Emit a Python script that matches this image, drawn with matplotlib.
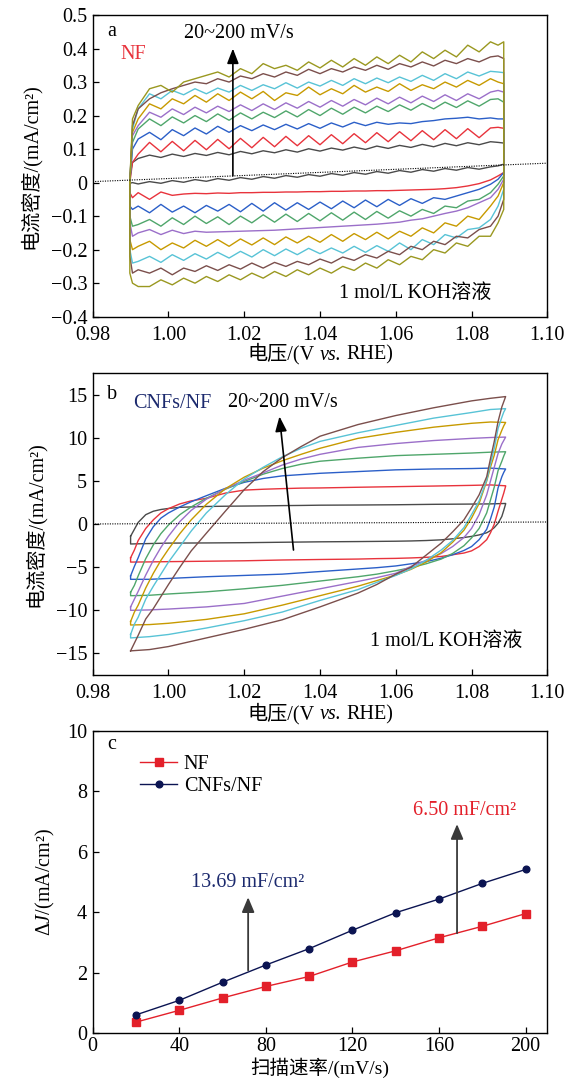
import matplotlib
matplotlib.use('Agg')
import matplotlib.pyplot as plt
from matplotlib.ticker import FuncFormatter, FixedLocator
from matplotlib.offsetbox import TextArea, HPacker, AnnotationBbox

FAMILY = ['Liberation Serif', 'Noto Sans CJK SC']
plt.rcParams['font.family'] = FAMILY
plt.rcParams['mathtext.fontset'] = 'custom'
plt.rcParams['mathtext.rm'] = 'Liberation Serif'
plt.rcParams['mathtext.it'] = 'Liberation Serif:italic'
plt.rcParams['axes.unicode_minus'] = True

# ---------------- Panel a : NF, CV curves (mA/cm2 vs V) ----------------
a_v = [0.9898, 0.9905, 0.992, 0.995, 0.998, 1.001, 1.004, 1.007, 1.010, 1.013, 1.016, 1.019,
       1.022, 1.025, 1.028, 1.031, 1.034, 1.037, 1.040, 1.043, 1.046, 1.049, 1.052, 1.055,
       1.058, 1.061, 1.064, 1.067, 1.070, 1.073, 1.076, 1.079, 1.082, 1.085, 1.087, 1.0885]

a_gray_up = [0.02, 0.06, 0.072, 0.082, 0.075, 0.085, 0.078, 0.087, 0.081, 0.090, 0.083, 0.093, 0.086,
             0.095, 0.089, 0.098, 0.091, 0.101, 0.094, 0.103, 0.097, 0.106, 0.099, 0.109, 0.102, 0.111,
             0.105, 0.114, 0.107, 0.117, 0.110, 0.119, 0.113, 0.122, 0.120, 0.118]
a_gray_lo = [-0.002, 0.0, -0.004, 0.003, -0.002, 0.006, 0.001, 0.009, 0.004, 0.012, 0.007, 0.015, 0.010,
             0.018, 0.013, 0.021, 0.016, 0.024, 0.019, 0.027, 0.022, 0.030, 0.025, 0.033, 0.028, 0.036,
             0.031, 0.039, 0.034, 0.042, 0.037, 0.045, 0.040, 0.047, 0.050, 0.055]
a_red_up = [0.0, 0.06, 0.085, 0.12, 0.092, 0.123, 0.095, 0.126, 0.098, 0.129, 0.101, 0.132, 0.104, 0.135,
            0.107, 0.138, 0.110, 0.140, 0.113, 0.143, 0.116, 0.146, 0.119, 0.149, 0.122, 0.152, 0.125,
            0.155, 0.128, 0.158, 0.131, 0.161, 0.134, 0.163, 0.165, 0.162]
a_red_lo = [-0.03, -0.045, -0.03, -0.05, -0.028, -0.038, -0.034, -0.032, -0.033, -0.031, -0.032, -0.030,
            -0.030, -0.029, -0.029, -0.028, -0.028, -0.027, -0.027, -0.026, -0.026, -0.025, -0.025,
            -0.024, -0.024, -0.023, -0.022, -0.021, -0.020, -0.018, -0.015, -0.010, -0.003, 0.008,
            0.020, 0.030]
a_blue_up = [0.0, 0.10, 0.13, 0.15, 0.128, 0.158, 0.14, 0.163, 0.145, 0.168, 0.15, 0.17, 0.155, 0.172,
             0.158, 0.174, 0.16, 0.176, 0.162, 0.178, 0.166, 0.18, 0.17, 0.18, 0.174, 0.178, 0.176, 0.182,
             0.185, 0.19, 0.192, 0.195, 0.19, 0.193, 0.19, 0.19]
a_blue_lo = [-0.07, -0.08, -0.07, -0.09, -0.065, -0.088, -0.07, -0.09, -0.068, -0.085, -0.065, -0.087,
             -0.062, -0.085, -0.06, -0.082, -0.06, -0.08, -0.058, -0.078, -0.055, -0.075, -0.052, -0.072,
             -0.05, -0.068, -0.048, -0.062, -0.045, -0.05, -0.04, -0.03, -0.02, -0.005, 0.01, 0.03]
a_green_up = [0.0, 0.12, 0.16, 0.19, 0.17, 0.196, 0.178, 0.2, 0.182, 0.205, 0.186, 0.208, 0.19, 0.21,
              0.194, 0.214, 0.196, 0.218, 0.2, 0.222, 0.204, 0.225, 0.208, 0.228, 0.212, 0.232, 0.216,
              0.236, 0.22, 0.24, 0.224, 0.244, 0.228, 0.248, 0.25, 0.24]
a_green_lo = [-0.1, -0.13, -0.125, -0.11, -0.13, -0.105, -0.125, -0.1, -0.122, -0.102, -0.125, -0.1,
              -0.12, -0.096, -0.118, -0.094, -0.116, -0.092, -0.114, -0.09, -0.112, -0.088, -0.11,
              -0.086, -0.106, -0.084, -0.1, -0.08, -0.092, -0.07, -0.075, -0.055, -0.05, -0.03,
              -0.005, 0.02]
a_purple_up = [0.0, 0.14, 0.17, 0.21, 0.195, 0.22, 0.203, 0.225, 0.208, 0.228, 0.212, 0.232, 0.215,
               0.235, 0.218, 0.238, 0.222, 0.242, 0.225, 0.245, 0.228, 0.248, 0.232, 0.252, 0.235, 0.255,
               0.238, 0.258, 0.242, 0.262, 0.245, 0.265, 0.25, 0.27, 0.275, 0.27]
a_purple_lo = [-0.12, -0.16, -0.15, -0.14, -0.155, -0.142, -0.152, -0.145, -0.148, -0.147, -0.146,
               -0.145, -0.144, -0.143, -0.142, -0.14, -0.138, -0.136, -0.134, -0.132, -0.13, -0.128,
               -0.126, -0.124, -0.121, -0.118, -0.112, -0.108, -0.1, -0.092, -0.085, -0.075, -0.06,
               -0.045, -0.02, 0.01]
a_gold_up = [0.0, 0.15, 0.19, 0.235, 0.22, 0.25, 0.235, 0.26, 0.24, 0.265, 0.245, 0.27, 0.25, 0.272,
             0.245, 0.268, 0.26, 0.285, 0.262, 0.28, 0.265, 0.29, 0.27, 0.285, 0.272, 0.295, 0.275, 0.292,
             0.28, 0.3, 0.285, 0.305, 0.29, 0.31, 0.3, 0.295]
a_gold_lo = [-0.17, -0.2, -0.19, -0.175, -0.2, -0.18, -0.195, -0.172, -0.19, -0.17, -0.19, -0.168,
             -0.186, -0.165, -0.185, -0.162, -0.18, -0.16, -0.178, -0.155, -0.175, -0.152, -0.17,
             -0.148, -0.168, -0.145, -0.16, -0.135, -0.15, -0.12, -0.13, -0.1, -0.11, -0.07, -0.04, 0.0]
a_cyan_up = [0.0, 0.16, 0.22, 0.265, 0.25, 0.275, 0.262, 0.28, 0.265, 0.282, 0.27, 0.29, 0.275, 0.292,
             0.28, 0.298, 0.282, 0.3, 0.288, 0.305, 0.29, 0.31, 0.295, 0.312, 0.298, 0.315, 0.302, 0.32,
             0.305, 0.325, 0.31, 0.33, 0.318, 0.332, 0.33, 0.328]
a_cyan_lo = [-0.2, -0.24, -0.235, -0.22, -0.238, -0.215, -0.232, -0.212, -0.228, -0.208, -0.225, -0.205,
             -0.222, -0.2, -0.218, -0.198, -0.215, -0.196, -0.212, -0.195, -0.21, -0.19, -0.208, -0.188,
             -0.205, -0.18, -0.2, -0.17, -0.185, -0.155, -0.165, -0.14, -0.135, -0.11, -0.07, -0.02]
a_brown_up = [0.0, 0.17, 0.22, 0.25, 0.268, 0.28, 0.29, 0.3, 0.295, 0.31, 0.3, 0.318, 0.31, 0.325,
              0.315, 0.33, 0.32, 0.338, 0.325, 0.34, 0.33, 0.345, 0.335, 0.35, 0.338, 0.355, 0.345,
              0.36, 0.348, 0.365, 0.355, 0.37, 0.36, 0.375, 0.378, 0.37]
a_brown_lo = [-0.22, -0.27, -0.26, -0.27, -0.255, -0.275, -0.255, -0.265, -0.248, -0.262, -0.245,
              -0.258, -0.24, -0.255, -0.238, -0.25, -0.235, -0.245, -0.228, -0.24, -0.222, -0.232,
              -0.215, -0.225, -0.205, -0.215, -0.19, -0.2, -0.175, -0.185, -0.16, -0.165, -0.14,
              -0.13, -0.1, -0.05]
a_olive_up = [0.0, 0.19, 0.23, 0.28, 0.29, 0.27, 0.3, 0.31, 0.32, 0.33, 0.315, 0.34, 0.325, 0.355,
              0.34, 0.35, 0.335, 0.36, 0.342, 0.365, 0.345, 0.37, 0.35, 0.375, 0.355, 0.38, 0.36, 0.39,
              0.37, 0.395, 0.375, 0.41, 0.39, 0.42, 0.41, 0.42]
a_olive_lo = [-0.27, -0.3, -0.31, -0.31, -0.29, -0.305, -0.285, -0.3, -0.28, -0.295, -0.275, -0.29,
              -0.27, -0.285, -0.265, -0.28, -0.26, -0.275, -0.255, -0.27, -0.25, -0.262, -0.24, -0.255,
              -0.23, -0.245, -0.22, -0.23, -0.2, -0.21, -0.18, -0.19, -0.16, -0.16, -0.12, -0.08]

a_baseline_v = [0.98, 1.10]
a_baseline_j = [0.003, 0.058]

# ---------------- Panel b : CNFs/NF, CV curves ----------------
b_v_up = [0.990, 0.991, 0.992, 0.994, 0.996, 0.998, 1.000, 1.003, 1.006, 1.010, 1.015, 1.020,
          1.025, 1.030, 1.035, 1.040, 1.050, 1.060, 1.070, 1.080, 1.085, 1.089]
b_v_dn = [1.089, 1.0885, 1.088, 1.087, 1.086, 1.085, 1.084, 1.082, 1.080, 1.078, 1.075, 1.072,
          1.068, 1.064, 1.060, 1.055, 1.050, 1.040, 1.030, 1.020, 1.010, 1.000, 0.995, 0.990]

b_gray_up = [-1.4, -0.6, 0.2, 1.1, 1.5, 1.7, 1.82, 1.95, 2.0, 2.05, 2.08, 2.1, 2.12, 2.15, 2.17, 2.2,
             2.22, 2.25, 2.3, 2.33, 2.35, 2.4]
b_gray_dn = [2.35, 1.6, 0.9, 0.1, -0.4, -0.75, -1.0, -1.25, -1.42, -1.55, -1.7, -1.82, -1.9, -1.95,
             -1.98, -2.0, -2.02, -2.05, -2.1, -2.15, -2.18, -2.2, -2.25, -2.3]
b_red_up = [-3.9, -3.0, -1.9, -0.5, 0.5, 1.3, 1.8, 2.35, 2.7, 3.0, 3.6, 3.95, 4.05, 4.12, 4.18, 4.2,
            4.28, 4.35, 4.42, 4.5, 4.55, 4.45]
b_red_dn = [4.4, 3.6, 2.9, 1.5, 0.0, -1.0, -1.8, -2.6, -3.1, -3.35, -3.55, -3.75, -3.85, -3.92, -3.97,
            -4.0, -4.05, -4.1, -4.16, -4.25, -4.3, -4.35, -4.38, -4.4]
b_blue_up = [-6.0, -4.9, -3.9, -1.7, -0.3, 0.7, 1.3, 2.0, 2.6, 3.3, 4.15, 4.85, 5.3, 5.6, 5.75, 5.9,
             6.1, 6.3, 6.4, 6.45, 6.5, 6.4]
b_blue_dn = [6.4, 6.0, 5.5, 4.2, 2.0, 0.6, -0.6, -1.8, -2.6, -3.05, -3.55, -3.95, -4.35, -4.6, -4.85,
             -5.05, -5.2, -5.5, -5.8, -5.95, -6.1, -6.3, -6.4, -6.4]
b_green_up = [-7.9, -7.1, -6.0, -4.0, -2.4, -1.1, -0.1, 1.1, 2.0, 3.0, 4.05, 4.95, 5.8, 6.45, 6.95,
              7.3, 7.65, 7.95, 8.1, 8.25, 8.35, 8.4]
b_green_dn = [8.4, 7.9, 7.3, 6.2, 4.3, 2.8, 1.3, -0.5, -1.6, -2.5, -3.4, -4.05, -4.6, -5.05, -5.4,
              -5.8, -6.1, -6.6, -7.1, -7.5, -7.85, -8.1, -8.25, -8.3]
b_purple_up = [-9.6, -8.7, -7.8, -5.9, -4.2, -2.7, -1.4, 0.3, 1.6, 2.9, 4.1, 5.1, 5.95, 6.85, 7.55,
               8.1, 8.9, 9.35, 9.7, 9.95, 10.05, 10.1]
b_purple_dn = [10.1, 9.7, 9.3, 8.2, 6.6, 5.0, 3.4, 1.1, -0.5, -1.55, -2.6, -3.4, -4.2, -4.9, -5.7,
               -6.2, -6.65, -7.5, -8.35, -9.2, -9.6, -9.85, -9.95, -10.0]
b_gold_up = [-11.3, -10.2, -9.4, -7.4, -5.7, -4.2, -2.9, -1.1, 0.5, 2.3, 4.1, 5.45, 6.5, 7.35, 8.1,
             8.8, 9.95, 10.65, 11.25, 11.7, 11.85, 11.8]
b_gold_dn = [11.8, 11.4, 10.9, 9.8, 8.0, 6.6, 5.0, 2.4, 0.7, -0.7, -2.1, -3.3, -4.4, -5.25, -5.9,
             -6.55, -7.2, -8.3, -9.4, -10.4, -11.05, -11.5, -11.65, -11.7]
b_cyan_up = [-12.8, -11.6, -10.8, -8.7, -7.2, -5.8, -4.4, -2.6, -0.8, 1.3, 3.4, 5.25, 6.6, 7.8, 8.8,
             9.6, 10.6, 11.45, 12.3, 12.95, 13.3, 13.4]
b_cyan_dn = [13.4, 13.0, 12.4, 11.1, 8.8, 7.0, 5.1, 2.7, 1.1, -0.4, -1.9, -3.0, -4.2, -5.2, -5.95,
             -6.75, -7.6, -8.85, -10.2, -11.2, -12.05, -12.8, -13.05, -13.2]
b_brown_up = [-14.7, -13.8, -12.9, -11.0, -9.8, -8.4, -7.0, -5.0, -3.1, -1.05, 1.5, 4.0, 6.1, 7.7, 9.0,
              10.2, 11.55, 12.6, 13.5, 14.3, 14.6, 14.8]
b_brown_dn = [14.8, 14.2, 13.6, 11.9, 9.6, 7.6, 5.5, 3.4, 1.9, 0.5, -0.9, -2.2, -3.6, -5.0, -5.8,
              -7.0, -8.0, -9.6, -11.1, -12.2, -13.2, -14.2, -14.55, -14.7]

b_baseline_v = [0.98, 1.10]
b_baseline_j = [0.02, 0.25]

# ---------------- Panel c : delta J vs scan rate ----------------
scan_rate = [20, 40, 60, 80, 100, 120, 140, 160, 180, 200]
dj_nf = [0.37, 0.76, 1.17, 1.55, 1.88, 2.36, 2.73, 3.16, 3.54, 3.96]
dj_cnf = [0.61, 1.09, 1.69, 2.26, 2.80, 3.41, 3.99, 4.44, 4.96, 5.42]

# ---------------- colours ----------------
C_GRAY = '#4a4a4a'
C_RED = '#e8333c'
C_BLUE = '#2b5fc8'
C_GREEN = '#4fa66b'
C_PURPLE = '#9b6fc9'
C_GOLD = '#c79a00'
C_CYAN = '#58c3d6'
C_BROWN = '#7b4f4c'
C_OLIVE = '#9a9820'
C_NF = '#e3202a'
C_CNF = '#0b1452'
C_NAVY_TXT = '#1c2a6e'

FS = 14.5

fig = plt.figure(figsize=(5.78, 10.81), dpi=100)
L, W = 0.1604, 0.7865
ax_a = fig.add_axes([L, 0.70703, W, 0.27909])
ax_b = fig.add_axes([L, 0.37558, W, 0.27909])
ax_c = fig.add_axes([L, 0.04412, W, 0.27965])


def style(ax, xpad=6.5):
    for s in ax.spines.values():
        s.set_linewidth(1.0)
    ax.tick_params(direction='in', length=4, width=0.9, top=False, right=False,
                   labelsize=FS, pad=4)
    ax.tick_params(axis='x', pad=xpad)


def fmt1(v, p):
    if abs(v) < 1e-9:
        return '0'
    return ('%.1f' % v).replace('-', '\u2212')


def fmt0(v, p):
    return ('%d' % round(v)).replace('-', '\u2212')


def loop(ax, vu, ju, vd, jd, color):
    xs = list(vu) + list(vd) + [vu[0]]
    ys = list(ju) + list(jd) + [ju[0]]
    ax.plot(xs, ys, color=color, lw=1.0, solid_joinstyle='round')


def potential_label(ax, yfrac):
    tp = dict(fontsize=FS, family=FAMILY)
    parts = [TextArea('电压/(V', textprops=tp),
             TextArea('vs.', textprops=dict(tp, style='italic')),
             TextArea('RHE)', textprops=tp)]
    box = HPacker(children=parts, align='baseline', pad=0, sep=3.6)
    ab = AnnotationBbox(box, (0.5, yfrac), xycoords='axes fraction', box_alignment=(0.5, 0.5),
                        frameon=False, annotation_clip=False, pad=0)
    ax.add_artist(ab)


arrow_k = dict(arrowstyle='-|>,head_length=0.9,head_width=0.35', mutation_scale=10,
               lw=1.2, color='black', shrinkA=0, shrinkB=0)

# ---- panel a ----
style(ax_a)
a_curves = [(a_gray_up, a_gray_lo, C_GRAY), (a_red_up, a_red_lo, C_RED),
            (a_blue_up, a_blue_lo, C_BLUE), (a_green_up, a_green_lo, C_GREEN),
            (a_purple_up, a_purple_lo, C_PURPLE), (a_gold_up, a_gold_lo, C_GOLD),
            (a_cyan_up, a_cyan_lo, C_CYAN), (a_brown_up, a_brown_lo, C_BROWN),
            (a_olive_up, a_olive_lo, C_OLIVE)]
for up, lo, c in a_curves:
    loop(ax_a, a_v, up, a_v[::-1], lo[::-1], c)
ax_a.plot(a_baseline_v, a_baseline_j, color='black', lw=0.8, ls=(0, (1, 1.2)))
ax_a.set_xlim(0.98, 1.10)
ax_a.set_ylim(-0.4, 0.5)
ax_a.xaxis.set_major_locator(FixedLocator([0.98, 1.00, 1.02, 1.04, 1.06, 1.08, 1.10]))
ax_a.xaxis.set_major_formatter(FuncFormatter(lambda v, p: '%.2f' % v))
ax_a.yaxis.set_major_locator(FixedLocator([-0.4, -0.3, -0.2, -0.1, 0, 0.1, 0.2, 0.3, 0.4, 0.5]))
ax_a.yaxis.set_major_formatter(FuncFormatter(fmt1))
potential_label(ax_a, -0.124)
ax_a.set_ylabel('电流密度/(mA/cm²)', fontsize=FS, labelpad=7)
ax_a.text(0.985, 0.45, 'a', fontsize=FS, ha='center', va='center')
ax_a.text(0.9906, 0.381, 'NF', fontsize=FS, color=C_RED, ha='center', va='center')
ax_a.annotate('', xy=(1.017, 0.40), xytext=(1.017, 0.02), arrowprops=arrow_k)
ax_a.text(1.0187, 0.446, '20~200 mV/s', fontsize=FS, ha='center', va='center')
ax_a.text(1.045, -0.33, '1 mol/L KOH溶液', fontsize=FS, ha='left', va='center')

# ---- panel b ----
style(ax_b)
b_curves = [(b_gray_up, b_gray_dn, C_GRAY), (b_red_up, b_red_dn, C_RED),
            (b_blue_up, b_blue_dn, C_BLUE), (b_green_up, b_green_dn, C_GREEN),
            (b_purple_up, b_purple_dn, C_PURPLE), (b_gold_up, b_gold_dn, C_GOLD),
            (b_cyan_up, b_cyan_dn, C_CYAN), (b_brown_up, b_brown_dn, C_BROWN)]
for up, dn, c in b_curves:
    loop(ax_b, b_v_up, up, b_v_dn, dn, c)
ax_b.plot(b_baseline_v, b_baseline_j, color='black', lw=0.8, ls=(0, (1, 1.2)))
ax_b.set_xlim(0.98, 1.10)
ax_b.set_ylim(-17.5, 17.5)
ax_b.xaxis.set_major_locator(FixedLocator([0.98, 1.00, 1.02, 1.04, 1.06, 1.08, 1.10]))
ax_b.xaxis.set_major_formatter(FuncFormatter(lambda v, p: '%.2f' % v))
ax_b.yaxis.set_major_locator(FixedLocator([-15, -10, -5, 0, 5, 10, 15]))
ax_b.yaxis.set_major_formatter(FuncFormatter(fmt0))
potential_label(ax_b, -0.128)
ax_b.set_ylabel('电流密度/(mA/cm²)', fontsize=FS, labelpad=7)
ax_b.text(0.985, 15.0, 'b', fontsize=FS, ha='center', va='center')
ax_b.text(0.9907, 14.0, 'CNFs/NF', fontsize=FS, color=C_NAVY_TXT, ha='left', va='center')
ax_b.text(1.0158, 14.1, '20~200 mV/s', fontsize=FS, ha='left', va='center')
ax_b.annotate('', xy=(1.0293, 12.5), xytext=(1.0330, -3.0), arrowprops=arrow_k)
ax_b.text(1.0533, -13.6, '1 mol/L KOH溶液', fontsize=FS, ha='left', va='center')

# ---- panel c ----
style(ax_c, xpad=3)
ax_c.plot(scan_rate, dj_nf, color=C_NF, lw=1.0, marker='s', ms=5.3, label='NF')
ax_c.plot(scan_rate, dj_cnf, color=C_CNF, lw=1.0, marker='o', ms=4.8, label='CNFs/NF')
ax_c.set_xlim(0, 210)
ax_c.set_ylim(0, 10)
ax_c.xaxis.set_major_locator(FixedLocator([0, 40, 80, 120, 160, 200]))
ax_c.yaxis.set_major_locator(FixedLocator([0, 2, 4, 6, 8, 10]))
ax_c.set_xlabel('扫描速率/(mV/s)', fontsize=14, va='center')
ax_c.xaxis.set_label_coords(0.5, -0.114)
ax_c.set_ylabel('Δ$J$/(mA/cm²)', fontsize=FS, labelpad=7)
ax_c.text(8.8, 9.54, 'c', fontsize=FS, ha='center', va='center')
ax_c.legend(loc='upper left', bbox_to_anchor=(0.105, 0.92), frameon=False, fontsize=FS,
            handlelength=1.8, handletextpad=0.35, labelspacing=0.15, borderpad=0, borderaxespad=0)
arrow_kw = dict(arrowstyle='-|>,head_length=0.9,head_width=0.38', mutation_scale=10,
                lw=1.3, color='#3a3a3a', shrinkA=0, shrinkB=0)
ax_c.annotate('', xy=(71.8, 4.5), xytext=(71.8, 2.08), arrowprops=arrow_kw)
ax_c.annotate('', xy=(168.3, 6.92), xytext=(168.3, 3.31), arrowprops=arrow_kw)
ax_c.text(45.3, 5.0, '13.69 mF/cm²', fontsize=FS, color=C_NAVY_TXT, ha='left', va='center')
ax_c.text(147.8, 7.38, '6.50 mF/cm²', fontsize=FS, color=C_NF, ha='left', va='center')

fig.savefig('out.png', dpi=100)
